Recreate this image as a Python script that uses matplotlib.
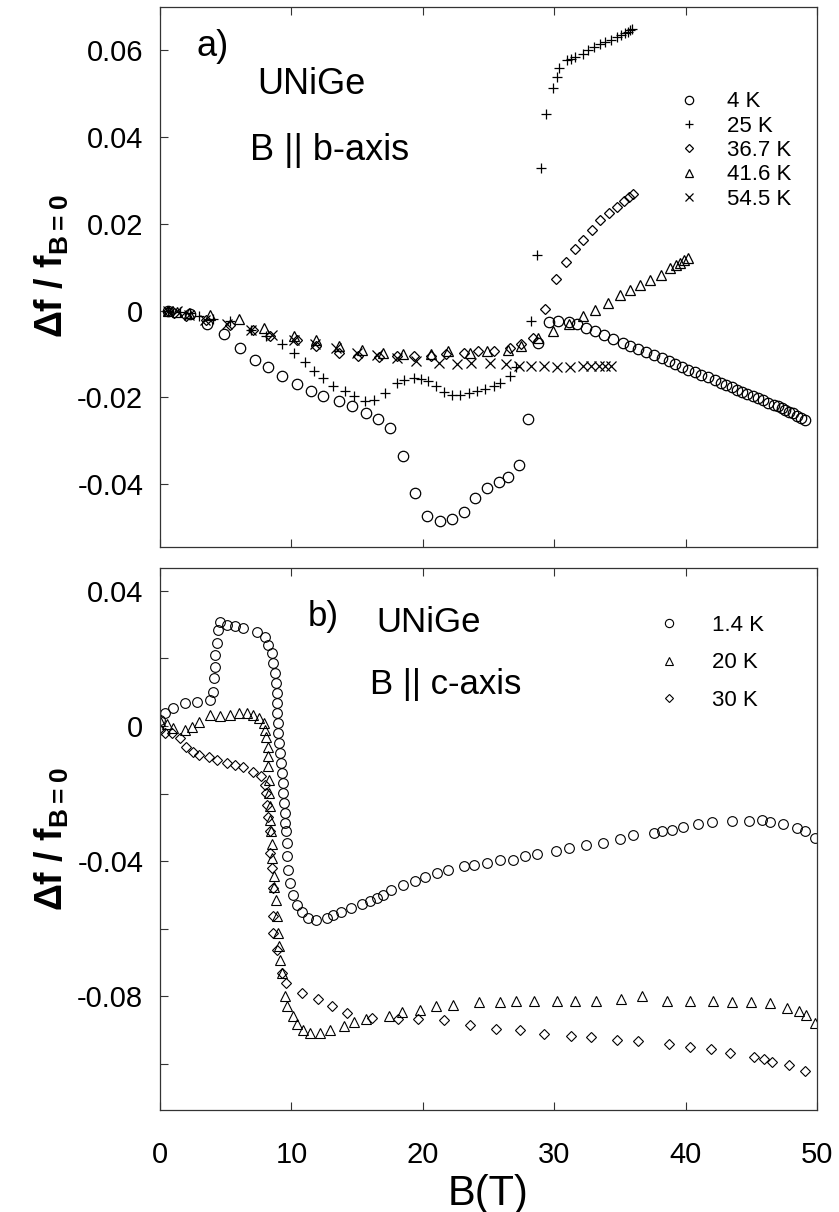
import matplotlib
matplotlib.use('Agg')
import matplotlib.pyplot as plt

plt.rcParams['font.family'] = ['Liberation Sans', 'DejaVu Sans']
plt.rcParams['mathtext.fontset'] = 'custom'
plt.rcParams['mathtext.rm'] = 'Liberation Sans:bold'
plt.rcParams['mathtext.bf'] = 'Liberation Sans:bold'
plt.rcParams['mathtext.default'] = 'rm'

# ---------------- Panel a: B || b-axis ----------------
a_4K = [(0.6, 0.0), (2.3, -0.0008), (3.6, -0.003), (4.9, -0.0055), (6.1, -0.0087), (7.2, -0.0113),
        (8.2, -0.0129), (9.3, -0.0151), (10.4, -0.017), (11.5, -0.0186), (12.4, -0.0196),
        (13.6, -0.0208), (14.6, -0.0221), (15.7, -0.0235), (16.6, -0.0249), (17.5, -0.0271),
        (18.5, -0.0336), (19.4, -0.0421), (20.3, -0.0473), (21.3, -0.0484), (22.2, -0.048),
        (23.1, -0.0465), (24.0, -0.0431), (24.9, -0.041), (25.8, -0.0396), (26.5, -0.0383),
        (27.3, -0.0356), (28.0, -0.0251), (28.8, -0.0074), (29.6, -0.0027), (30.3, -0.0023),
        (31.1, -0.0027), (31.7, -0.003), (32.4, -0.004), (33.1, -0.0047), (33.8, -0.0057),
        (34.5, -0.0065), (35.2, -0.0074), (35.8, -0.0082), (36.4, -0.0089), (37.0, -0.0096),
        (37.6, -0.0103), (38.2, -0.011), (38.7, -0.0117), (39.2, -0.0123), (39.7, -0.0129),
        (40.2, -0.0136), (40.7, -0.0142), (41.2, -0.0148), (41.7, -0.0154), (42.2, -0.016),
        (42.7, -0.0167), (43.1, -0.0172), (43.5, -0.0177), (43.9, -0.0182), (44.3, -0.0187),
        (44.7, -0.0192), (45.1, -0.0197), (45.5, -0.0202), (45.9, -0.0207), (46.3, -0.0212),
        (46.7, -0.0217), (47.0, -0.0221), (47.3, -0.0225), (47.6, -0.0229), (47.9, -0.0233),
        (48.2, -0.0237), (48.5, -0.0242), (48.8, -0.0247), (49.1, -0.0253)]

a_25K = [(0.6, 0.0), (1.5, -0.0003), (2.3, -0.0006), (3.0, -0.0012), (4.0, -0.002), (5.3, -0.0025),
         (6.9, -0.0044), (8.1, -0.0058), (9.3, -0.0078), (10.2, -0.0097), (11.0, -0.0119),
         (11.7, -0.014), (12.4, -0.0155), (13.2, -0.0173), (14.1, -0.0186), (14.8, -0.0197),
         (15.6, -0.0208), (16.3, -0.0205), (17.1, -0.019), (18.0, -0.0166), (18.6, -0.0159),
         (19.3, -0.0155), (19.9, -0.0157), (20.4, -0.0162), (21.0, -0.0174), (21.6, -0.0188),
         (22.2, -0.0195), (22.8, -0.0195), (23.5, -0.0191), (24.1, -0.0186), (24.7, -0.018),
         (25.4, -0.0173), (25.9, -0.0166), (26.6, -0.015), (27.1, -0.013), (28.2, -0.0025),
         (28.7, 0.0129), (29.0, 0.0328), (29.4, 0.0454), (29.9, 0.0514), (30.2, 0.0539),
         (30.4, 0.056), (30.95, 0.0577), (31.3, 0.058), (31.6, 0.0585), (32.2, 0.0592),
         (32.6, 0.06), (33.0, 0.0608), (33.5, 0.0615), (33.9, 0.062), (34.3, 0.0624),
         (34.75, 0.063), (35.1, 0.0635), (35.4, 0.064), (35.6, 0.0643), (35.8, 0.0648), (35.9, 0.065)]

a_367K = [(0.6, 0.0), (1.1, -0.0006), (2.0, -0.0012), (3.5, -0.0021), (5.3, -0.0033), (7.1, -0.0044),
          (8.4, -0.0058), (10.4, -0.0067), (11.9, -0.0082), (13.6, -0.0097), (15.1, -0.0105),
          (16.7, -0.0106), (18.0, -0.0105), (19.3, -0.0105), (20.6, -0.0105), (21.8, -0.0101),
          (23.1, -0.0097), (24.2, -0.0094), (25.4, -0.0094), (26.6, -0.0086), (27.5, -0.0078),
          (28.4, -0.0063), (29.3, 0.0003), (30.1, 0.0073), (30.9, 0.0111), (31.6, 0.0142),
          (32.2, 0.0163), (32.9, 0.0186), (33.5, 0.0209), (34.2, 0.0225), (34.8, 0.024),
          (35.3, 0.0252), (35.7, 0.0262), (36.0, 0.027)]

a_416K = [(0.6, 0.0), (1.3, -0.0003), (2.2, -0.0005), (3.8, -0.0009), (6.0, -0.002), (7.9, -0.0039),
          (10.2, -0.0059), (11.9, -0.0068), (13.6, -0.0081), (15.4, -0.009), (17.0, -0.0097),
          (18.5, -0.0101), (20.6, -0.0099), (21.9, -0.0094), (23.6, -0.0097), (24.9, -0.0094),
          (26.5, -0.009), (27.5, -0.0082), (28.8, -0.0063), (29.9, -0.0048), (31.1, -0.003),
          (32.2, -0.0013), (33.1, 0.0002), (34.1, 0.0017), (35.0, 0.0036), (35.8, 0.0048),
          (36.5, 0.006), (37.3, 0.0071), (38.1, 0.0083), (38.8, 0.0098), (39.3, 0.0105),
          (39.6, 0.011), (39.9, 0.0116), (40.2, 0.0121)]

a_545K = [(0.6, 0.0), (1.3, -0.0002), (2.2, -0.001), (3.4, -0.0021), (5.1, -0.0032), (6.9, -0.0044),
          (8.5, -0.0057), (10.2, -0.0067), (11.8, -0.0078), (13.4, -0.0086), (15.0, -0.0097),
          (16.5, -0.0103), (18.0, -0.0109), (19.5, -0.0116), (21.2, -0.012), (22.6, -0.0124),
          (23.7, -0.012), (25.1, -0.012), (26.3, -0.0124), (27.3, -0.0128), (28.2, -0.0128),
          (29.2, -0.0128), (30.2, -0.013), (31.2, -0.013), (32.2, -0.0128), (32.8, -0.0128),
          (33.4, -0.0128), (33.9, -0.0128), (34.3, -0.0128)]

# ---------------- Panel b: B || c-axis ----------------
b_14K = [(0.0, 0.0018), (0.4, 0.0037), (1.0, 0.0052), (1.9, 0.0067), (2.8, 0.0071), (3.8, 0.0076),
         (4.06, 0.0101), (4.1, 0.0141), (4.19, 0.0175), (4.2, 0.021), (4.3, 0.0244), (4.44, 0.0284),
         (4.57, 0.0308), (5.07, 0.0299), (5.7, 0.0294), (6.3, 0.029), (7.35, 0.0279), (8.0, 0.0264),
         (8.24, 0.024), (8.5, 0.0215), (8.62, 0.0185), (8.75, 0.0155), (8.83, 0.0126), (8.88, 0.0096),
         (8.88, 0.0067), (8.93, 0.0037), (9.0, 0.0008), (9.0, -0.0022), (9.08, -0.0051),
         (9.13, -0.0081), (9.18, -0.011), (9.26, -0.014), (9.33, -0.0169), (9.39, -0.0199),
         (9.44, -0.0229), (9.51, -0.0258), (9.55, -0.0287), (9.6, -0.0312), (9.65, -0.0347),
         (9.7, -0.0386), (9.75, -0.0425), (9.89, -0.0465), (10.15, -0.0499), (10.4, -0.0529),
         (10.78, -0.0549), (11.29, -0.0568), (11.9, -0.0573), (12.7, -0.0568), (13.2, -0.0558),
         (13.8, -0.0551), (14.5, -0.0539), (15.35, -0.0526), (16.0, -0.0519), (16.5, -0.0509),
         (17.0, -0.0499), (17.6, -0.0484), (18.5, -0.047), (19.4, -0.046), (20.2, -0.0447),
         (21.05, -0.0435), (21.9, -0.0427), (23.1, -0.0415), (23.9, -0.041), (24.9, -0.0405),
         (25.9, -0.0396), (26.9, -0.0396), (27.8, -0.0386), (28.7, -0.0378), (30.1, -0.0371),
         (31.1, -0.0361), (32.4, -0.0351), (33.7, -0.0345), (35.0, -0.0335), (36.0, -0.0322),
         (37.6, -0.0317), (38.2, -0.0312), (38.95, -0.0307), (39.8, -0.0299), (40.97, -0.0289),
         (42.0, -0.0285), (43.5, -0.028), (44.8, -0.028), (45.8, -0.0278), (46.4, -0.0283),
         (47.4, -0.0289), (48.46, -0.0302), (49.1, -0.0312), (49.85, -0.0332)]

b_20K = [(0.0, 0.0015), (0.5, 0.0005), (1.0, -0.0005), (1.9, -0.0012), (2.4, -0.0002), (3.0, 0.0013),
         (3.8, 0.0032), (4.6, 0.0028), (5.3, 0.0032), (6.0, 0.0039), (6.6, 0.0039), (7.1, 0.0032),
         (7.5, 0.0022), (7.9, 0.0008), (8.0, -0.0012), (8.1, -0.0032), (8.2, -0.0061), (8.25, -0.009),
         (8.25, -0.012), (8.3, -0.0159), (8.3, -0.0199), (8.35, -0.0238), (8.4, -0.0277),
         (8.45, -0.031), (8.5, -0.035), (8.55, -0.039), (8.65, -0.0445), (8.7, -0.0475),
         (8.8, -0.0514), (8.9, -0.0563), (9.0, -0.0613), (9.05, -0.0652), (9.15, -0.0691),
         (9.3, -0.0731), (9.5, -0.0799), (9.65, -0.0829), (10.15, -0.0858), (10.4, -0.0883),
         (10.9, -0.0898), (11.4, -0.0908), (12.2, -0.0908), (12.9, -0.0898), (14.0, -0.0888),
         (14.8, -0.0876), (15.7, -0.0866), (17.4, -0.0857), (18.4, -0.0847), (19.8, -0.0839),
         (21.0, -0.0827), (22.3, -0.0824), (24.3, -0.0817), (25.9, -0.0817), (27.1, -0.0814),
         (28.5, -0.0814), (30.2, -0.0814), (31.6, -0.0814), (33.2, -0.0814), (35.1, -0.0808),
         (36.7, -0.08), (38.6, -0.0814), (40.3, -0.0814), (42.1, -0.0814), (43.5, -0.0817),
         (45.0, -0.0817), (46.4, -0.082), (47.7, -0.0834), (48.6, -0.0844), (49.2, -0.0854),
         (49.85, -0.0878)]

b_30K = [(0.0, -0.0012), (0.4, -0.0022), (0.9, -0.0022), (1.5, -0.0037), (2.0, -0.0061), (2.5, -0.0076),
         (3.0, -0.0086), (3.7, -0.0093), (4.3, -0.0101), (5.1, -0.011), (5.7, -0.0115), (6.3, -0.0122),
         (7.1, -0.0135), (7.7, -0.0149), (8.0, -0.0174), (8.1, -0.0199), (8.15, -0.0233),
         (8.2, -0.0268), (8.35, -0.0312), (8.4, -0.0376), (8.5, -0.042), (8.6, -0.0479),
         (8.6, -0.0563), (8.6, -0.0612), (8.9, -0.0662), (9.25, -0.0731), (9.6, -0.076),
         (10.8, -0.079), (12.0, -0.0809), (13.1, -0.0829), (14.2, -0.0849), (16.1, -0.0863),
         (18.1, -0.0868), (19.6, -0.0868), (21.6, -0.087), (23.6, -0.0885), (25.6, -0.0895),
         (27.4, -0.09), (29.2, -0.091), (31.25, -0.0917), (32.8, -0.092), (34.8, -0.0928),
         (36.4, -0.0932), (38.7, -0.094), (40.3, -0.0949), (41.9, -0.0957), (43.4, -0.0968),
         (45.2, -0.0978), (46.0, -0.0986), (46.6, -0.0995), (47.9, -0.1002), (49.1, -0.1022)]

labels_a = ['4 K', '25 K', '36.7 K', '41.6 K', '54.5 K']
labels_b = ['1.4 K', '20 K', '30 K']
x_ticks = [0, 10, 20, 30, 40, 50]
ya_ticks = [-0.04, -0.02, 0, 0.02, 0.04, 0.06]
ya_ticklabels = ['-0.04', '-0.02', '0', '0.02', '0.04', '0.06']
yb_ticks = [-0.10, -0.08, -0.06, -0.04, -0.02, 0, 0.02, 0.04]
yb_ticklabels = ['', '-0.08', '', '-0.04', '', '0', '', '0.04']

W, H = 839, 1212
fig = plt.figure(figsize=(W / 100, H / 100), dpi=100)
axa = fig.add_axes([160 / W, 1 - 547 / H, 657 / W, 540 / H])
axb = fig.add_axes([160 / W, 1 - 1110 / H, 657 / W, 542 / H])

style = dict(ls='none', color='black', mfc='none', mec='black')


def draw(ax, data, marker, ms, mew, label):
    xs = [p[0] for p in data]
    ys = [p[1] for p in data]
    ax.plot(xs, ys, marker=marker, ms=ms, mew=mew, label=label, **style)


draw(axa, a_4K, 'o', 7.5, 0.9, labels_a[0])
draw(axa, a_25K, '+', 7.5, 0.9, labels_a[1])
draw(axa, a_367K, 'D', 5.0, 0.9, labels_a[2])
draw(axa, a_416K, '^', 7.0, 0.9, labels_a[3])
draw(axa, a_545K, 'x', 7.0, 0.9, labels_a[4])

draw(axb, b_14K, 'o', 7.0, 0.8, labels_b[0])
draw(axb, b_20K, '^', 7.0, 0.8, labels_b[1])
draw(axb, b_30K, 'D', 4.8, 0.8, labels_b[2])

for ax in (axa, axb):
    ax.set_xlim(0, 50)
    ax.set_xticks(x_ticks)
    for s in ax.spines.values():
        s.set_linewidth(0.9)
        s.set_color('#333333')
    ax.tick_params(axis='both', direction='in', length=6, width=0.8, color='#333333',
                   top=True, right=False, labelsize=21)
    ax.tick_params(axis='y', pad=12)
    ax.set_ylabel('Δf / f$_{B=0}$', fontsize=27, fontweight='bold')

axa.yaxis.set_label_coords(-0.135, 0.52)
axb.yaxis.set_label_coords(-0.135, 0.5)

axa.set_ylim(-0.0545, 0.07)
axa.set_yticks(ya_ticks)
axa.set_yticklabels(ya_ticklabels)
axa.tick_params(axis='x', labelbottom=False)

axb.set_ylim(-0.1136, 0.0467)
axb.set_yticks(yb_ticks)
axb.set_yticklabels(yb_ticklabels)
axb.tick_params(axis='x', pad=22, labelsize=21)
axb.set_xlabel('B(T)', fontsize=30, labelpad=4)

# annotations
axa.text(0.055, 0.926, 'a)', transform=axa.transAxes, fontsize=26, va='center', ha='left')
axa.text(0.148, 0.856, 'UNiGe', transform=axa.transAxes, fontsize=26, va='center', ha='left')
axa.text(0.137, 0.735, 'B || b-axis', transform=axa.transAxes, fontsize=26, va='center', ha='left')

axb.text(0.225, 0.91, 'b)', transform=axb.transAxes, fontsize=25, va='center', ha='left')
axb.text(0.33, 0.9, 'UNiGe', transform=axb.transAxes, fontsize=25, va='center', ha='left')
axb.text(0.32, 0.785, 'B || c-axis', transform=axb.transAxes, fontsize=25, va='center', ha='left')

axa.legend(loc='upper left', bbox_to_anchor=(0.775, 0.86), frameon=False, fontsize=16,
           markerscale=0.8, handlelength=1.0, handletextpad=1.2, labelspacing=0.15,
           borderaxespad=0)
axb.legend(loc='upper left', bbox_to_anchor=(0.745, 0.93), frameon=False, fontsize=16,
           markerscale=0.85, handlelength=1.0, handletextpad=1.4, labelspacing=0.75,
           borderaxespad=0)

fig.savefig('out.png', dpi=100)
